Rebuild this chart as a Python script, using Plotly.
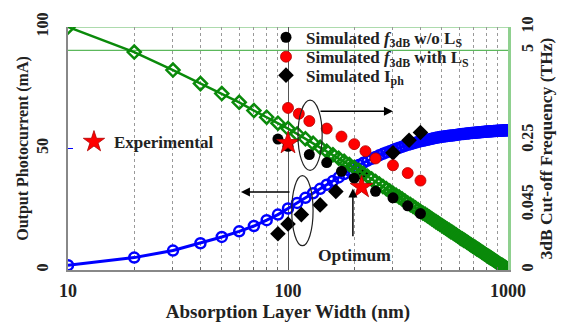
import plotly.graph_objects as go

# ---- data -------------------------------------------------------------
width_nm = list(range(10, 1001, 10))          # absorption layer width (nm)

# simulated photocurrent curve (left axis, mA)
photocurrent = [2.0, 5.1, 8.0, 11.0, 13.6, 15.9, 18.1, 20.5, 22.8, 25.3,
                27.6, 29.7, 31.6, 33.4, 35.1, 36.6, 38.1, 39.5, 40.9, 42.2,
                43.2, 44.1, 45.0, 45.8, 46.5, 47.2, 47.8, 48.4, 48.9, 49.4,
                49.9, 50.3, 50.7, 51.1, 51.5, 51.8, 52.1, 52.4, 52.7, 53.0,
                53.2, 53.4, 53.6, 53.8, 54.0, 54.2, 54.4, 54.5, 54.7, 54.8,
                54.9, 55.0, 55.1, 55.2, 55.3, 55.4, 55.5, 55.6, 55.7, 55.8,
                55.9, 55.95, 56.0, 56.1, 56.15, 56.2, 56.3, 56.35, 56.4, 56.5,
                56.5, 56.6, 56.6, 56.7, 56.7, 56.8, 56.8, 56.9, 56.9, 57.0,
                57.0, 57.0, 57.1, 57.1, 57.1, 57.2, 57.2, 57.2, 57.3, 57.3,
                57.3, 57.3, 57.4, 57.4, 57.4, 57.4, 57.5, 57.5, 57.5, 57.5]

# simulated 3dB frequency curve (right axis, plotted on its display scale 0-100)
f3db_curve = [100, 89.7, 82.3, 76.7, 72.6, 69.0, 65.6, 62.9, 60.4, 58.2,
              56.0, 54.0, 52.2, 50.5, 48.9, 47.4, 46.0, 44.7, 43.4, 42.2,
              40.9, 39.7, 38.6, 37.4, 36.4, 35.4, 34.4, 33.4, 32.5, 31.6,
              30.8, 30.0, 29.2, 28.4, 27.6, 26.9, 26.2, 25.5, 24.8, 24.1,
              23.5, 22.9, 22.3, 21.7, 21.1, 20.5, 19.9, 19.4, 18.8, 18.3,
              17.8, 17.3, 16.8, 16.3, 15.8, 15.4, 14.9, 14.5, 14.0, 13.6,
              13.1, 12.7, 12.3, 11.9, 11.5, 11.1, 10.7, 10.3, 9.9, 9.6,
              9.2, 8.8, 8.5, 8.1, 7.8, 7.4, 7.1, 6.7, 6.4, 6.1,
              5.8, 5.4, 5.1, 4.8, 4.5, 4.2, 3.9, 3.6, 3.3, 3.0,
              2.7, 2.4, 2.1, 1.9, 1.6, 1.3, 1.1, 0.8, 0.5, 0.3]

wo_ls_x = [90, 100, 125, 150, 175, 200, 250, 300, 350, 400]
wo_ls_y = [53.9, 50.9, 47.5, 44.2, 40.6, 37.8, 32.4, 29.7, 26.4, 23.2]

with_ls_x = [100, 112, 125, 150, 175, 200, 225, 250, 300, 350, 400]
with_ls_y = [66.7, 64.3, 61.3, 58.2, 54.9, 51.8, 48.9, 45.9, 43.1, 39.9, 36.8]

iph_x = [90, 100, 115, 140, 165, 215, 300, 355, 400]
iph_y = [14.9, 18.9, 22.8, 26.8, 32.3, 39.8, 48.2, 53.4, 56.6]

exp_x = [100, 216]
exp_y = [52.2, 34.1]

x_ticks = [10, 100, 1000]
x_minor = [20, 30, 40, 50, 60, 70, 80, 90, 200, 300, 400, 500, 600, 700, 800, 900]
left_ticks = [0, 50, 100]
right_tickvals = [0, 26.9, 53.4, 90.4, 100]
right_ticktext = ["0", "0.045", "0.25", "5", "10"]

FONT = "Liberation Serif, Times New Roman, serif"
LEG_FONT = dict(family=FONT, size=17, color="#222", weight="bold")

fig = go.Figure()

fig.add_trace(go.Scatter(
    x=width_nm, y=photocurrent, mode="lines+markers", showlegend=False,
    line=dict(color="#0000ff", width=3),
    marker=dict(symbol="circle-open", size=10, color="#0000ff", line=dict(width=2.5)),
))
fig.add_trace(go.Scatter(
    x=width_nm, y=f3db_curve, mode="lines+markers", showlegend=False, yaxis="y2",
    line=dict(color="#0a8a0a", width=2.5),
    marker=dict(symbol="diamond-open", size=10, color="#0a8a0a", line=dict(width=2.5)),
))
fig.add_trace(go.Scatter(
    x=iph_x, y=iph_y, mode="markers", name="Simulated I<sub>ph</sub>", legend="legend4",
    marker=dict(symbol="diamond", size=12, color="black"),
))
fig.add_trace(go.Scatter(
    x=wo_ls_x, y=wo_ls_y, mode="markers", yaxis="y2", legend="legend",
    name="Simulated <i>f</i><sub>3dB</sub> w/o L<sub>S</sub>",
    marker=dict(symbol="circle", size=11, color="black"),
))
fig.add_trace(go.Scatter(
    x=with_ls_x, y=with_ls_y, mode="markers", yaxis="y2", legend="legend3",
    name="Simulated <i>f</i><sub>3dB</sub> with L<sub>S</sub>",
    marker=dict(symbol="circle", size=11, color="#ff0000", line=dict(color="#b00000", width=0.8)),
))
fig.add_trace(go.Scatter(
    x=exp_x, y=exp_y, mode="markers", yaxis="y2", name="Experimental", legend="legend2",
    marker=dict(symbol="star", size=17, color="#ff0000", line=dict(color="#b00000", width=0.8)),
))

# right-axis gridlines (green)
for v in [100, 90.4]:
    fig.add_shape(type="line", xref="paper", yref="y", x0=0, x1=1, y0=v, y1=v,
                  line=dict(color="#5cb85c", width=1.2), layer="below")

# ellipses
fig.add_shape(type="circle", xref="x", yref="y", x0=111, x1=143, y0=41.0, y1=69.9,
              line=dict(color="#222", width=1.2))
fig.add_shape(type="circle", xref="x", yref="y", x0=104, x1=130, y0=10.0, y1=38.8,
              line=dict(color="#222", width=1.2))

# arrows (annotation coordinates on a log axis are log10 values)
arrow = dict(showarrow=True, arrowhead=2, arrowsize=1.2, arrowwidth=1.5, arrowcolor="black",
             text="", xref="x", yref="y", axref="x", ayref="y")
fig.add_annotation(x=2.477, y=65.3, ax=2.141, ay=65.3, **arrow)
fig.add_annotation(x=1.786, y=32.1, ax=2.0136, ay=32.1, **arrow)
fig.add_annotation(x=2.295, y=33.5, ax=2.295, ay=13.3, **arrow)
fig.add_annotation(x=2.30, y=6.0, xref="x", yref="y", text="<b>Optimum</b>", showarrow=False,
                   font=dict(family=FONT, size=17.5, color="#222"))

# the page body adds an 8px offset, so the figure is drawn 8px smaller
fig.update_layout(
    width=566, height=319,
    margin=dict(l=60, r=66, t=12, b=57),
    paper_bgcolor="white", plot_bgcolor="white",
    font=dict(family=FONT, size=15, color="#222"),
    xaxis=dict(
        type="log", range=[1, 3], tickvals=x_ticks, ticktext=[str(v) for v in x_ticks],
        automargin=False, ticklabelstandoff=4,
        showgrid=True, gridcolor="#555", gridwidth=1,
        showline=True, linecolor="#888", linewidth=1.5,
        ticks="", tickfont=dict(family=FONT, size=18, color="#222", weight="bold"),
        minor=dict(tickvals=x_minor, showgrid=True, gridcolor="#999", griddash="dot",
                   gridwidth=1, ticks="inside", ticklen=3, tickcolor="#666"),
        title=dict(text="<b>Absorption Layer Width (nm)</b>", standoff=4,
                   font=dict(family=FONT, size=19, color="#222")),
        zeroline=False,
    ),
    yaxis=dict(
        range=[0, 100], tickvals=left_ticks, tickangle=-90, showgrid=False,
        automargin=False, ticklabelstandoff=12,
        showline=True, linecolor="#888", linewidth=1.5,
        ticks="inside", ticklen=5, tickcolor="#0000ff",
        tickfont=dict(family=FONT, size=16, color="#222", weight="bold"),
        title=dict(text="<b>Output Photocurrent (mA)</b>", standoff=1,
                   font=dict(family=FONT, size=16, color="#222")),
        zeroline=False,
    ),
    yaxis2=dict(
        overlaying="y", side="right", range=[0, 100], automargin=False,
        ticklabelstandoff=3,
        tickvals=right_tickvals, ticktext=right_ticktext, tickangle=-90,
        showgrid=False, showline=True, linecolor="#8fd08f", linewidth=3,
        ticks="", tickfont=dict(family=FONT, size=16, color="#222", weight="bold"),
        title=dict(text="<b>3dB Cut-off Frequency (THz)</b>", standoff=4,
                   font=dict(family=FONT, size=17.5, color="#222")),
        zeroline=False,
    ),
    legend=dict(x=0.45, y=1.03, xanchor="left", yanchor="top", yref="paper",
                bgcolor="rgba(0,0,0,0)", borderwidth=0, font=LEG_FONT),
    legend3=dict(x=0.45, y=0.95, xanchor="left", yanchor="top", yref="paper",
                 bgcolor="rgba(0,0,0,0)", borderwidth=0, font=LEG_FONT),
    legend4=dict(x=0.45, y=0.874, xanchor="left", yanchor="top", yref="paper",
                 bgcolor="rgba(0,0,0,0)", borderwidth=0, font=LEG_FONT),
    legend2=dict(x=0.0136, y=0.6, xanchor="left", yanchor="top", yref="paper",
                 bgcolor="rgba(0,0,0,0)", borderwidth=0, font=LEG_FONT),
)

fig.write_html("out.html")
